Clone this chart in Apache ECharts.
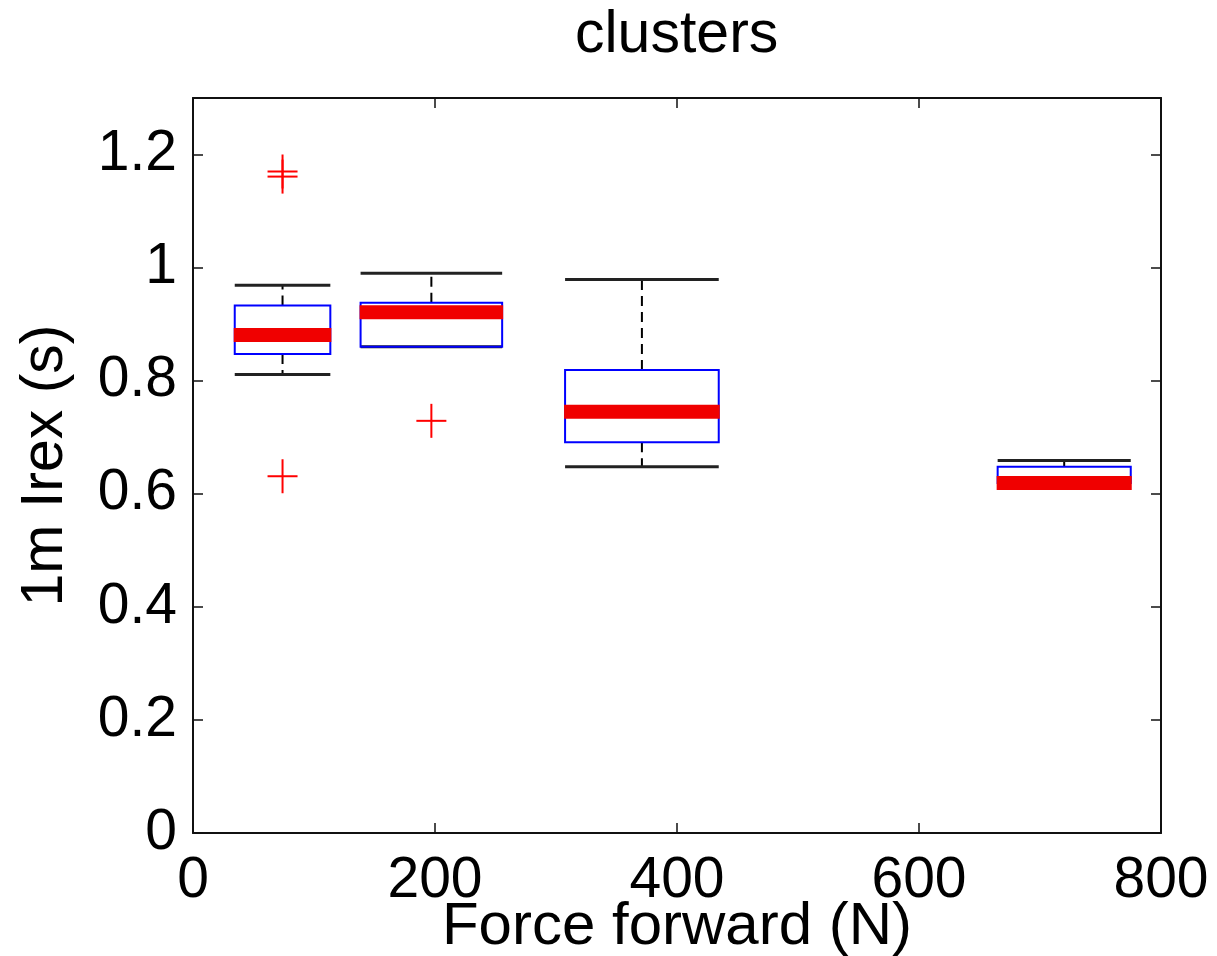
<!DOCTYPE html>
<html>
<head>
<meta charset="utf-8">
<script src="https://cdn.jsdelivr.net/npm/echarts@6/dist/echarts.min.js"></script>
<style>
html,body{margin:0;padding:0;background:#fff;}
#chart{width:1217px;height:956px;}
</style>
</head>
<body>
<div id="chart"></div>
<script>
// ---- data ----
const positions    = [74, 197, 371, 720];      // box centers (N)
const boxWidths    = [79, 117, 127, 110];      // box widths (N)
const lowerWhisker = [0.811, 0.860, 0.648, 0.619];
const q1           = [0.847, 0.860, 0.691, 0.619];
const median       = [0.881, 0.921, 0.745, 0.619];
const q3           = [0.933, 0.938, 0.819, 0.648];
const upperWhisker = [0.969, 0.990, 0.979, 0.659];
const outlierX     = [74, 74, 74, 197];
const outlierY     = [1.170, 1.161, 0.631, 0.729];
const xTickLabels  = ['0', '200', '400', '600', '800'];
const yTickLabels  = ['0', '0.2', '0.4', '0.6', '0.8', '1', '1.2'];

const boxData = positions.map((p, i) => [p, boxWidths[i], lowerWhisker[i], q1[i], median[i], q3[i], upperWhisker[i]]);
const outData = outlierX.map((x, i) => [x, outlierY[i]]);

const FONT = '"Liberation Sans", Arial, Helvetica, sans-serif';
const axisLine = {show: true, onZero: false, lineStyle: {color: '#111', width: 2}};
const axisTick = {show: true, inside: true, length: 10, lineStyle: {color: '#111', width: 1.5}};

const chart = echarts.init(document.getElementById('chart'), null, {renderer: 'canvas'});

function renderBox(params, api) {
  const pos = api.value(0), w = api.value(1);
  const lo = api.value(2), a = api.value(3), med = api.value(4), b = api.value(5), hi = api.value(6);
  const left = api.coord([pos - w / 2, 0])[0];
  const right = api.coord([pos + w / 2, 0])[0];
  const cx = api.coord([pos, 0])[0];
  const Y = v => api.coord([pos, v])[1];
  const children = [];
  if (hi > b) {
    children.push({type: 'line', shape: {x1: cx, y1: Y(b), x2: cx, y2: Y(hi)},
      style: {stroke: '#000', lineWidth: 2, lineDash: [10, 6]}});
  }
  if (lo < a) {
    children.push({type: 'line', shape: {x1: cx, y1: Y(a), x2: cx, y2: Y(lo)},
      style: {stroke: '#000', lineWidth: 2, lineDash: [10, 6]}});
  }
  children.push({type: 'line', shape: {x1: left, y1: Y(hi), x2: right, y2: Y(hi)},
    style: {stroke: '#222', lineWidth: 3}});
  children.push({type: 'line', shape: {x1: left, y1: Y(lo), x2: right, y2: Y(lo)},
    style: {stroke: '#222', lineWidth: 3}});
  children.push({type: 'rect', shape: {x: left, y: Y(b), width: right - left, height: Y(a) - Y(b)},
    style: {fill: null, stroke: '#0000ff', lineWidth: 2}});
  children.push({type: 'line', shape: {x1: left - 1, y1: Y(med), x2: right + 1, y2: Y(med)},
    style: {stroke: '#f00000', lineWidth: 14}});
  return {type: 'group', children: children};
}

function renderPlus(params, api) {
  const p = api.coord([api.value(0), api.value(1)]);
  const h = 15;
  return {type: 'group', children: [
    {type: 'line', shape: {x1: p[0] - h, y1: p[1], x2: p[0] + h, y2: p[1]}, style: {stroke: '#ff0000', lineWidth: 2}},
    {type: 'line', shape: {x1: p[0], y1: p[1] - h - 2, x2: p[0], y2: p[1] + h + 2}, style: {stroke: '#ff0000', lineWidth: 2}}
  ]};
}

chart.setOption({
  animation: false,
  backgroundColor: '#fff',
  title: {
    text: 'clusters', left: 570, top: 1,
    textStyle: {fontFamily: FONT, fontSize: 59, fontWeight: 'normal', color: '#000'}
  },
  grid: {left: 193, right: 56, top: 98, bottom: 123, outerBoundsMode: 'none', containLabel: false},
  xAxis: [
    {
      type: 'value', position: 'bottom', min: 0, max: 800, interval: 200,
      name: 'Force forward (N)', nameLocation: 'middle', nameGap: 64, nameMoveOverlap: false,
      nameTextStyle: {fontFamily: FONT, fontSize: 60, color: '#000'},
      axisLine: axisLine, axisTick: axisTick, splitLine: {show: false},
      axisLabel: {fontFamily: FONT, fontSize: 57, color: '#000', margin: 20,
        formatter: v => xTickLabels[Math.round(v / 200)]}
    },
    {
      type: 'value', position: 'top', min: 0, max: 800, interval: 200,
      axisLine: axisLine, axisTick: axisTick, splitLine: {show: false},
      axisLabel: {show: false}
    }
  ],
  yAxis: [
    {
      type: 'value', position: 'left', min: 0, max: 1.3, interval: 0.2,
      name: '1m Irex (s)', nameLocation: 'middle', nameGap: 118, nameRotate: 90, nameMoveOverlap: false,
      nameTextStyle: {fontFamily: FONT, fontSize: 59, color: '#000'},
      axisLine: axisLine, axisTick: axisTick, splitLine: {show: false},
      axisLabel: {fontFamily: FONT, fontSize: 57, color: '#000', margin: 16, showMaxLabel: false,
        formatter: v => { const k = Math.round(v / 0.2); return (Math.abs(v - k * 0.2) < 1e-6 && yTickLabels[k] !== undefined) ? yTickLabels[k] : ''; }}
    },
    {
      type: 'value', position: 'right', min: 0, max: 1.3, interval: 0.2,
      axisLine: axisLine, axisTick: axisTick, splitLine: {show: false},
      axisLabel: {show: false}
    }
  ],
  series: [
    {type: 'custom', xAxisIndex: 0, yAxisIndex: 0, renderItem: renderBox, data: boxData,
      encode: {x: [0], y: [2, 3, 4, 5, 6]}},
    {type: 'custom', xAxisIndex: 0, yAxisIndex: 0, renderItem: renderPlus, data: outData,
      encode: {x: 0, y: 1}, z: 3}
  ]
});
</script>
</body>
</html>
